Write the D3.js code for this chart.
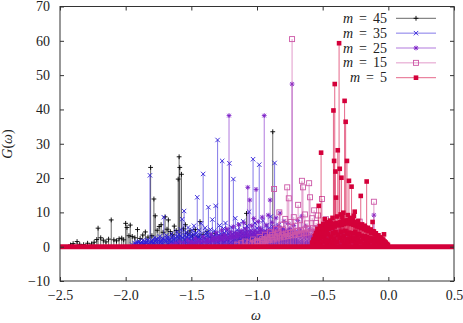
<!DOCTYPE html>
<html>
<head>
<meta charset="utf-8">
<script src="https://cdn.jsdelivr.net/npm/d3@7"></script>
<style>
  body { margin: 0; background: #fff; }
  svg { display: block; }
</style>
</head>
<body>
<div id="chart"></div>
<script>
// spectra G(w) for each m as [omega, G]
var m45 = [[-2.42,0.5],[-2.40,0.9],[-2.37,1.5],[-2.35,0.7],[-2.32,0.6],[-2.29,1.0],[-2.26,0.8],[-2.24,1.3],[-2.22,2.1],[-2.21,5.4],[-2.19,2.6],[-2.17,1.9],[-2.15,1.4],[-2.13,2.2],[-2.11,7.8],[-2.09,2.0],[-2.07,1.7],[-2.05,2.3],[-2.03,2.5],[-2.015,2.0],[-2.00,6.8],[-1.99,5.6],[-1.975,3.2],[-1.965,6.3],[-1.95,3.0],[-1.93,2.6],[-1.91,5.0],[-1.89,2.4],[-1.87,3.4],[-1.85,4.3],[-1.83,2.8],[-1.81,23.1],[-1.80,3.2],[-1.785,13.9],[-1.775,9.0],[-1.76,4.8],[-1.745,5.9],[-1.73,6.4],[-1.715,4.2],[-1.70,8.7],[-1.685,5.1],[-1.675,7.8],[-1.66,4.4],[-1.645,3.6],[-1.63,6.0],[-1.615,4.7],[-1.60,19.7],[-1.593,26.2],[-1.588,23.1],[-1.575,21.1],[-1.56,5.2],[-1.545,6.4],[-1.53,3.9],[-1.51,4.6],[-1.49,3.4],[-1.47,5.0],[-1.45,2.9],[-1.434,7.3],[-1.41,3.6],[-1.38,4.4],[-1.35,2.7],[-1.32,3.9],[-1.29,2.5],[-1.26,3.2],[-1.22,2.4],[-1.18,3.0],[-1.14,2.2],[-1.10,2.8],[-1.08,9.7],[-1.04,2.1],[-1.00,2.9],[-0.96,3.3],[-0.92,1.9],[-0.88,33.5],[-0.84,2.2],[-0.80,1.6],[-0.75,1.9],[-0.70,1.3],[-0.65,1.0],[-0.60,0.7]];

var m35 = [[-1.95,0.6],[-1.93,1.0],[-1.91,1.4],[-1.89,1.1],[-1.87,1.8],[-1.85,1.3],[-1.83,2.0],[-1.815,20.8],[-1.80,1.7],[-1.78,2.6],[-1.76,2.1],[-1.74,3.0],[-1.72,2.4],[-1.71,8.6],[-1.69,3.3],[-1.67,2.7],[-1.65,3.8],[-1.63,3.0],[-1.61,4.4],[-1.595,3.6],[-1.58,5.0],[-1.57,8.0],[-1.555,10.4],[-1.54,4.2],[-1.525,5.6],[-1.51,3.8],[-1.495,4.9],[-1.48,6.1],[-1.465,4.0],[-1.455,14.4],[-1.44,4.8],[-1.425,6.8],[-1.41,21.2],[-1.395,5.5],[-1.38,4.3],[-1.37,11.5],[-1.355,5.0],[-1.34,7.9],[-1.325,4.6],[-1.315,11.9],[-1.30,31.1],[-1.285,6.2],[-1.265,25.0],[-1.255,5.3],[-1.24,6.9],[-1.225,4.8],[-1.21,24.3],[-1.195,5.7],[-1.18,19.7],[-1.165,8.3],[-1.15,4.9],[-1.135,6.6],[-1.12,4.4],[-1.105,7.4],[-1.09,5.1],[-1.075,6.0],[-1.06,10.2],[-1.045,4.7],[-1.03,25.5],[-1.015,6.9],[-1.00,5.4],[-0.983,23.9],[-0.97,5.0],[-0.955,7.6],[-0.94,4.5],[-0.925,6.2],[-0.91,5.3],[-0.895,8.8],[-0.88,5.8],[-0.866,24.4],[-0.85,4.9],[-0.835,6.3],[-0.82,3.9],[-0.805,5.5],[-0.79,3.4],[-0.775,4.6],[-0.76,3.0],[-0.745,4.2],[-0.73,2.7],[-0.715,3.6],[-0.70,2.3],[-0.68,3.1],[-0.66,2.0],[-0.64,2.6],[-0.62,1.7],[-0.60,2.2],[-0.58,1.4],[-0.56,1.8],[-0.53,1.1],[-0.50,1.3],[-0.47,0.8],[-0.44,0.6]];
// the dense low part of the m = 35 spectrum
var m35low = [[-1.925,0.8],[-1.915,1.2],[-1.905,0.6],[-1.895,1.5],[-1.885,0.9],[-1.875,1.3],[-1.865,0.7],[-1.855,1.6],[-1.845,1.1],[-1.835,1.8],[-1.825,1.0],[-1.805,1.4],[-1.795,2.0],[-1.785,1.2],[-1.775,1.7],[-1.765,2.3],[-1.755,1.5],[-1.745,2.1],[-1.735,1.3],[-1.725,1.9],[-1.705,2.2],[-1.695,1.6],[-1.685,2.5],[-1.675,1.8],[-1.665,2.2],[-1.655,1.4],[-1.645,2.7],[-1.635,2.0],[-1.625,2.4],[-1.615,1.7],[-1.605,2.9],[-1.59,2.2],[-1.585,3.1],[-1.565,2.6],[-1.55,3.3],[-1.545,2.0],[-1.535,2.8],[-1.52,3.4],[-1.515,2.3],[-1.505,3.0],[-1.49,2.5],[-1.485,3.6],[-1.475,2.2],[-1.46,3.2],[-1.45,2.7],[-1.435,3.5],[-1.43,2.4],[-1.415,3.0],[-1.40,2.6],[-1.39,3.8],[-1.385,2.1],[-1.375,3.3],[-1.36,2.8],[-1.35,3.6],[-1.345,2.3],[-1.33,3.1],[-1.32,2.6],[-1.31,3.9],[-1.295,2.9],[-1.29,3.4],[-1.28,2.5],[-1.27,3.7],[-1.26,2.8],[-1.25,4.0],[-1.245,3.0],[-1.235,3.5],[-1.22,2.6],[-1.215,3.8],[-1.205,3.1],[-1.19,3.6],[-1.185,2.7],[-1.175,4.1],[-1.17,3.2],[-1.16,3.7],[-1.145,2.9],[-1.14,3.4],[-1.13,4.2],[-1.125,3.0],[-1.115,3.6],[-1.11,2.7],[-1.10,3.9],[-1.095,3.3],[-1.085,4.0],[-1.08,2.8],[-1.07,3.5],[-1.065,3.1],[-1.055,4.3],[-1.05,2.9],[-1.04,3.7],[-1.035,3.2],[-1.025,4.0],[-1.02,2.8],[-1.01,3.6],[-1.005,3.1],[-0.995,4.1],[-0.99,2.7],[-0.975,3.5],[-0.965,3.0],[-0.96,3.8],[-0.95,2.6],[-0.945,3.4],[-0.935,3.9],[-0.93,2.8],[-0.92,3.3],[-0.915,2.5],[-0.905,3.7],[-0.90,2.9],[-0.89,3.2],[-0.885,2.4],[-0.875,3.5],[-0.87,2.7],[-0.86,3.0],[-0.855,2.2],[-0.845,3.3],[-0.84,2.6],[-0.83,2.9],[-0.825,2.1],[-0.815,3.1],[-0.81,2.4],[-0.80,2.8],[-0.795,2.0],[-0.785,2.6],[-0.78,1.9],[-0.77,2.4],[-0.765,1.7],[-0.755,2.2],[-0.75,1.6],[-0.74,2.0],[-0.735,1.5],[-0.725,1.9],[-0.72,1.4],[-0.71,1.7],[-0.705,1.2],[-0.695,1.6],[-0.69,1.1],[-0.675,1.4],[-0.665,1.0],[-0.655,1.3],[-0.645,0.9],[-0.635,1.1],[-0.625,0.8],[-0.615,1.0],[-0.605,0.7],[-0.59,0.9],[-0.57,0.6],[-0.55,0.7],[-0.52,0.5]];
var m35small = [[-1.90,0.5],[-1.86,0.8],[-1.82,0.6],[-1.79,1.0],[-1.75,0.7],[-1.72,1.1],[-1.68,0.8],[-1.64,1.2],[-1.60,0.9],[-1.56,1.4],[-1.53,1.0],[-1.50,1.6],[-1.47,1.2],[-1.44,1.7],[-1.42,1.1],[-1.39,1.8],[-1.36,1.3],[-1.33,1.9],[-1.30,1.4],[-1.275,2.0],[-1.25,1.5],[-1.23,1.9],[-1.20,1.3],[-1.175,2.1],[-1.15,1.6],[-1.125,2.0],[-1.10,1.4],[-1.075,1.9],[-1.05,1.5],[-1.025,2.1],[-1.00,1.6],[-0.975,1.9],[-0.95,1.3],[-0.925,1.8],[-0.90,1.4],[-0.875,1.7],[-0.85,1.2],[-0.82,1.5],[-0.79,1.0],[-0.76,1.2],[-0.73,0.8],[-0.70,0.9],[-0.66,0.6],[-0.62,0.5]];

var m25 = [[-1.65,0.6],[-1.62,1.0],[-1.59,1.4],[-1.56,1.1],[-1.53,1.9],[-1.50,1.5],[-1.47,2.4],[-1.44,1.8],[-1.41,2.9],[-1.38,2.2],[-1.35,3.6],[-1.33,2.7],[-1.31,4.1],[-1.29,3.0],[-1.27,4.8],[-1.25,3.5],[-1.23,5.2],[-1.213,38.2],[-1.20,4.3],[-1.18,5.8],[-1.16,4.1],[-1.14,6.4],[-1.12,4.7],[-1.10,7.0],[-1.085,5.2],[-1.07,17.3],[-1.055,13.6],[-1.04,6.1],[-1.025,8.2],[-1.007,16.7],[-0.99,7.3],[-0.975,5.4],[-0.96,8.6],[-0.945,38.2],[-0.93,6.3],[-0.915,9.2],[-0.90,13.6],[-0.885,7.1],[-0.87,5.6],[-0.855,8.4],[-0.84,6.0],[-0.825,9.8],[-0.81,5.1],[-0.795,7.4],[-0.78,4.6],[-0.765,6.8],[-0.75,5.3],[-0.733,47.4],[-0.72,6.2],[-0.705,4.4],[-0.69,7.6],[-0.675,5.0],[-0.66,8.9],[-0.645,4.2],[-0.63,6.0],[-0.615,3.8],[-0.60,5.1],[-0.585,3.3],[-0.57,4.5],[-0.555,2.9],[-0.54,3.8],[-0.52,2.4],[-0.50,3.1],[-0.48,2.0],[-0.46,2.6],[-0.44,1.7],[-0.41,2.1],[-0.38,1.4],[-0.35,1.7],[-0.32,1.2],[-0.29,1.5],[-0.26,1.0],[-0.23,1.3],[-0.20,0.9],[-0.17,1.1],[-0.14,0.8],[-0.11,9.2],[-0.08,0.7],[-0.05,0.5]];
var m25low = [[-1.515,0.8],[-1.495,1.2],[-1.475,0.9],[-1.455,1.4],[-1.435,1.1],[-1.415,1.6],[-1.395,1.3],[-1.375,1.9],[-1.365,1.4],[-1.345,2.2],[-1.335,1.6],[-1.32,2.4],[-1.305,1.8],[-1.295,2.6],[-1.28,2.0],[-1.265,2.8],[-1.255,2.2],[-1.24,3.0],[-1.225,2.4],[-1.205,3.2],[-1.195,2.6],[-1.185,3.4],[-1.17,2.7],[-1.155,3.6],[-1.145,2.9],[-1.13,3.8],[-1.115,3.0],[-1.105,4.0],[-1.09,3.2],[-1.075,4.2],[-1.065,3.3],[-1.05,4.4],[-1.035,3.5],[-1.02,4.6],[-1.015,3.6],[-1.00,4.3],[-0.985,3.8],[-0.97,4.7],[-0.955,3.9],[-0.94,4.5],[-0.925,3.7],[-0.91,4.8],[-0.895,4.0],[-0.88,4.6],[-0.865,3.8],[-0.85,4.9],[-0.835,4.1],[-0.82,4.5],[-0.805,3.9],[-0.79,4.7],[-0.775,4.0],[-0.76,4.4],[-0.745,3.7],[-0.725,4.2],[-0.71,3.5],[-0.695,4.0],[-0.68,3.3],[-0.665,3.8],[-0.65,3.1],[-0.635,3.5],[-0.62,2.9],[-0.605,3.2],[-0.59,2.6],[-0.575,2.9],[-0.56,2.3],[-0.545,2.6],[-0.53,2.0],[-0.515,2.3],[-0.49,1.8],[-0.47,1.5],[-0.45,1.3],[-0.43,1.1],[-0.40,0.9],[-0.37,0.8]];

var m15 = [[-1.15,0.6],[-1.12,1.0],[-1.09,1.5],[-1.06,1.2],[-1.03,2.1],[-1.00,1.7],[-0.98,2.8],[-0.96,2.2],[-0.94,3.5],[-0.92,2.7],[-0.90,4.2],[-0.885,3.4],[-0.87,16.8],[-0.855,5.2],[-0.84,4.1],[-0.83,10.0],[-0.815,6.4],[-0.80,5.0],[-0.785,8.1],[-0.77,17.3],[-0.758,14.1],[-0.745,7.2],[-0.733,60.5],[-0.72,8.6],[-0.705,6.1],[-0.687,12.2],[-0.672,7.7],[-0.658,19.2],[-0.65,17.3],[-0.635,9.4],[-0.62,6.8],[-0.603,18.5],[-0.596,14.4],[-0.58,8.3],[-0.565,10.6],[-0.55,6.9],[-0.535,9.1],[-0.52,5.8],[-0.505,13.9],[-0.49,6.4],[-0.475,8.0],[-0.46,5.3],[-0.445,6.9],[-0.43,4.5],[-0.415,5.9],[-0.40,4.0],[-0.385,5.2],[-0.37,3.6],[-0.355,4.7],[-0.34,3.2],[-0.325,4.3],[-0.31,2.9],[-0.295,3.7],[-0.28,2.5],[-0.265,3.3],[-0.25,2.2],[-0.235,2.9],[-0.218,7.3],[-0.20,2.4],[-0.185,1.9],[-0.17,2.6],[-0.155,1.6],[-0.14,2.1],[-0.125,1.4],[-0.11,13.1],[-0.095,1.2],[-0.08,1.5],[-0.065,1.0],[-0.05,0.8],[-0.035,0.6],[-0.02,0.4]];
var m15low = [[-1.035,0.9],[-1.015,1.3],[-0.995,1.1],[-0.975,1.7],[-0.955,1.4],[-0.945,2.0],[-0.935,1.6],[-0.925,2.3],[-0.91,1.9],[-0.895,2.6],[-0.88,2.1],[-0.865,2.9],[-0.85,2.4],[-0.835,3.2],[-0.825,2.7],[-0.81,3.5],[-0.795,2.9],[-0.78,3.8],[-0.765,3.1],[-0.75,4.0],[-0.74,3.3],[-0.725,4.3],[-0.71,3.5],[-0.695,4.5],[-0.68,3.7],[-0.665,4.8],[-0.645,3.9],[-0.64,5.0],[-0.625,4.1],[-0.61,5.2],[-0.59,4.2],[-0.575,5.4],[-0.57,4.4],[-0.555,5.1],[-0.545,4.3],[-0.53,4.9],[-0.515,4.0],[-0.50,4.6],[-0.485,3.8],[-0.47,4.3],[-0.455,3.6],[-0.44,4.0],[-0.425,3.3],[-0.41,3.7],[-0.395,3.1],[-0.38,3.4],[-0.365,2.8],[-0.35,3.1],[-0.335,2.6],[-0.32,2.8],[-0.305,2.3],[-0.29,2.6],[-0.275,2.1],[-0.26,2.3],[-0.245,1.9],[-0.23,2.0],[-0.21,1.7],[-0.19,1.5],[-0.175,1.3],[-0.16,1.1],[-0.13,0.9],[-0.10,0.7]];

var m5 = [[-0.58,1.2],[-0.57,2.0],[-0.56,3.1],[-0.55,4.0],[-0.54,5.2],[-0.53,11.9],[-0.52,6.0],[-0.512,27.4],[-0.505,5.4],[-0.495,6.6],[-0.484,8.0],[-0.475,5.9],[-0.465,7.1],[-0.455,6.3],[-0.445,7.6],[-0.435,6.8],[-0.425,8.4],[-0.418,39.7],[-0.413,25.0],[-0.408,47.4],[-0.403,21.9],[-0.398,14.3],[-0.39,8.8],[-0.385,28.1],[-0.375,59.3],[-0.37,22.7],[-0.363,9.4],[-0.357,20.1],[-0.35,8.6],[-0.343,9.9],[-0.333,42.5],[-0.325,36.4],[-0.315,25.0],[-0.308,9.2],[-0.30,19.2],[-0.29,8.4],[-0.28,17.5],[-0.27,7.8],[-0.262,9.0],[-0.256,10.2],[-0.248,7.1],[-0.24,6.4],[-0.232,7.5],[-0.224,6.0],[-0.21,14.8],[-0.20,6.5],[-0.19,5.6],[-0.18,6.1],[-0.172,5.2],[-0.165,19.0],[-0.155,5.5],[-0.145,4.7],[-0.135,5.0],[-0.125,4.2],[-0.12,7.2],[-0.11,4.4],[-0.10,3.8],[-0.09,3.3],[-0.08,2.9],[-0.07,2.5],[-0.06,2.1],[-0.05,1.8],[-0.04,1.4],[-0.033,3.6],[-0.025,1.0],[-0.015,0.7],[-0.005,0.4]];
var m5low = [[-0.575,0.8],[-0.572,1.5],[-0.565,2.2],[-0.562,1.8],[-0.555,2.9],[-0.552,3.3],[-0.545,2.6],[-0.542,3.8],[-0.535,4.2],[-0.525,3.6],[-0.515,4.6],[-0.51,4.0],[-0.50,5.0],[-0.49,4.4],[-0.48,5.6],[-0.47,4.8],[-0.46,6.0],[-0.45,5.2],[-0.44,6.3],[-0.43,5.5],[-0.42,6.6],[-0.41,5.9],[-0.395,6.9],[-0.38,6.2],[-0.365,7.2],[-0.355,6.4],[-0.345,7.4],[-0.338,6.6],[-0.33,7.6],[-0.32,6.8],[-0.31,7.7],[-0.303,6.9],[-0.295,7.5],[-0.285,6.6],[-0.275,7.3],[-0.265,6.4],[-0.258,7.0],[-0.25,6.2],[-0.243,6.8],[-0.236,5.9],[-0.228,6.5],[-0.22,5.7],[-0.215,6.2],[-0.205,5.4],[-0.195,5.9],[-0.185,5.1],[-0.175,5.6],[-0.168,4.8],[-0.16,5.2],[-0.15,4.5],[-0.14,4.9],[-0.13,4.1],[-0.115,4.5],[-0.105,3.7],[-0.095,3.9],[-0.085,3.2],[-0.075,3.3],[-0.065,2.7],[-0.055,2.6],[-0.045,2.1],[-0.038,2.0],[-0.028,1.5],[-0.02,1.2],[-0.01,0.8],[-0.003,0.5]];
var m5small = [[-0.568,1.0],[-0.558,0.6],[-0.548,1.9],[-0.538,1.2],[-0.528,2.4],[-0.518,0.9],[-0.508,2.8],[-0.498,1.5],[-0.488,3.2],[-0.478,2.0],[-0.468,0.8],[-0.458,3.6],[-0.448,1.7],[-0.438,2.9],[-0.428,1.1],[-0.42,3.9],[-0.412,2.3],[-0.402,4.2],[-0.392,1.4],[-0.382,3.5],[-0.372,2.6],[-0.36,4.4],[-0.352,1.8],[-0.34,3.1],[-0.335,0.9],[-0.327,4.6],[-0.318,2.2],[-0.312,3.8],[-0.305,1.3],[-0.298,4.1],[-0.288,2.7],[-0.278,1.6],[-0.268,3.9],[-0.26,2.4],[-0.252,4.3],[-0.245,1.0],[-0.238,3.4],[-0.23,2.1],[-0.222,3.7],[-0.212,1.5],[-0.202,3.2],[-0.192,2.3],[-0.182,0.8],[-0.178,3.0],[-0.17,1.9],[-0.162,2.8],[-0.152,1.2],[-0.142,2.6],[-0.132,1.7],[-0.122,2.4],[-0.112,0.9],[-0.102,2.1],[-0.092,1.4],[-0.082,1.8],[-0.072,0.7],[-0.062,1.3],[-0.052,0.9],[-0.042,1.0],[-0.032,0.5],[-0.022,0.6]];

// every spectrum is sampled over the whole omega range, zeros elsewhere
var omegaRange = [-2.5, 0.5];

var seriesValues = ["45", "35", "25", "15", "5"];
var xTicks = [-2.5, -2, -1.5, -1, -0.5, 0, 0.5];
var yTicks = [-10, 0, 10, 20, 30, 40, 50, 60, 70];

var series = [
    {label: seriesValues[0], data: m45, color: "#000000", shape: "plus"},
    {label: seriesValues[1], data: m35small.concat(m35low, m35), color: "#2f1ed8", shape: "cross"},
    {label: seriesValues[2], data: m25low.concat(m25), color: "#7c1ec6", shape: "star"},
    {label: seriesValues[3], data: m15low.concat(m15), color: "#cc56a6", shape: "box"},
    {label: seriesValues[4], data: m5small.concat(m5low, m5), color: "#d4003a", shape: "boxfill"}
];

var svgWidth = 463;
var svgHeight = 323;
var margin = {top: 6.5, right: 9, bottom: 42, left: 60};
var width = svgWidth - margin.left - margin.right;
var height = svgHeight - margin.top - margin.bottom;
var font = "Liberation Serif, DejaVu Serif, serif";

var svg = d3.select("#chart")
    .append("svg")
    .attr("width", svgWidth)
    .attr("height", svgHeight)
    .style("font-family", font);

var chartGroup = svg.append("g")
    .attr("transform", `translate(${margin.left}, ${margin.top})`);

var xScale = d3.scaleLinear().domain([-2.5, 0.5]).range([0, width]);
var yScale = d3.scaleLinear().domain([-10, 70]).range([height, 0]);

// draw a marker of the given shape at (x, y)
function marker(g, shape, x, y, color) {
    var a = 2.4;
    if (shape == "plus" || shape == "star") {
        g.append("path").attr("d", `M${x - a},${y}H${x + a}M${x},${y - a}V${y + a}`)
            .attr("stroke", color).attr("stroke-width", 0.9).attr("fill", "none");
    }
    if (shape == "cross" || shape == "star") {
        var b = shape == "star" ? 1.8 : 2.2;
        g.append("path").attr("d", `M${x - b},${y - b}L${x + b},${y + b}M${x - b},${y + b}L${x + b},${y - b}`)
            .attr("stroke", color).attr("stroke-width", 0.9).attr("fill", "none");
    }
    if (shape == "box") {
        g.append("rect").attr("x", x - 2.5).attr("y", y - 2.5).attr("width", 5).attr("height", 5)
            .attr("stroke", color).attr("stroke-width", 0.9).attr("fill", "none");
    }
    if (shape == "boxfill") {
        g.append("rect").attr("x", x - 2.3).attr("y", y - 2.3).attr("width", 4.6).attr("height", 4.6)
            .attr("fill", color);
    }
}

var plotArea = chartGroup.append("g");

series.forEach(function(s) {
    var g = plotArea.append("g");
    // impulses, thin so that they look lighter than the points
    g.selectAll("line")
        .data(s.data)
        .enter()
        .append("line")
        .attr("x1", d => xScale(d[0]))
        .attr("x2", d => xScale(d[0]))
        .attr("y1", yScale(0))
        .attr("y2", d => yScale(d[1]))
        .attr("stroke", s.color)
        .attr("stroke-width", 0.6);
    s.data.forEach(function(d) {
        marker(g, s.shape, xScale(d[0]), yScale(d[1]), s.color);
    });
});

// zero samples of the last spectrum merge into one thick band
plotArea.append("line")
    .attr("x1", xScale(omegaRange[0]))
    .attr("x2", xScale(omegaRange[1]))
    .attr("y1", yScale(0))
    .attr("y2", yScale(0))
    .attr("stroke", series[4].color)
    .attr("stroke-width", 5);

// axes, ticks pointing in
var xAxis = d3.axisBottom(xScale).tickValues(xTicks).tickSizeInner(-4).tickSizeOuter(0).tickPadding(9);
var yAxis = d3.axisLeft(yScale).tickValues(yTicks).tickSizeInner(-4).tickSizeOuter(0).tickPadding(10);

var gx = chartGroup.append("g")
    .attr("transform", `translate(0, ${height})`)
    .call(xAxis);
var gy = chartGroup.append("g")
    .call(yAxis);
var gxTop = chartGroup.append("g")
    .call(d3.axisTop(xScale).tickValues(xTicks).tickSizeInner(-4).tickSizeOuter(0).tickFormat(""));
var gyRight = chartGroup.append("g")
    .attr("transform", `translate(${width}, 0)`)
    .call(d3.axisRight(yScale).tickValues(yTicks).tickSizeInner(-4).tickSizeOuter(0).tickFormat(""));

[gx, gy, gxTop, gyRight].forEach(function(g) {
    g.attr("font-family", null).attr("font-size", null);
    g.select(".domain").remove();
    g.selectAll("line").attr("stroke", "#333");
    g.selectAll("text")
        .style("font-family", font)
        .style("font-size", "14px")
        .attr("fill", "#222");
});

// border
chartGroup.append("rect")
    .attr("x", 0).attr("y", 0)
    .attr("width", width).attr("height", height)
    .attr("fill", "none")
    .attr("stroke", "#333")
    .attr("stroke-width", 1);

// legend
var legend = svg.append("g");
series.forEach(function(s, i) {
    var ly = 18.3 + i * 14.85;
    var t = legend.append("text")
        .attr("x", 387)
        .attr("y", ly + 4.5)
        .attr("text-anchor", "end")
        .style("font-family", font)
        .style("font-size", "14px")
        .attr("fill", "#222");
    t.append("tspan").attr("font-style", "italic").text("m");
    t.append("tspan").attr("dx", 6).text("=");
    t.append("tspan").attr("dx", 6).text(s.label);
    legend.append("line")
        .attr("x1", 396).attr("x2", 436)
        .attr("y1", ly).attr("y2", ly)
        .attr("stroke", s.color)
        .attr("stroke-width", 0.6);
    marker(legend, s.shape, 416, ly, s.color);
});

// y label
svg.append("text")
    .attr("transform", "translate(12, 144) rotate(-90)")
    .attr("text-anchor", "middle")
    .style("font-family", font)
    .style("font-size", "14px")
    .attr("fill", "#222")
    .html("<tspan font-style='italic'>G</tspan>(<tspan font-style='italic'>ω</tspan>)");

// x label
svg.append("text")
    .attr("x", 256)
    .attr("y", 320)
    .attr("text-anchor", "middle")
    .style("font-family", font)
    .style("font-size", "14px")
    .attr("font-style", "italic")
    .attr("fill", "#222")
    .text("ω");
</script>
</body>
</html>
